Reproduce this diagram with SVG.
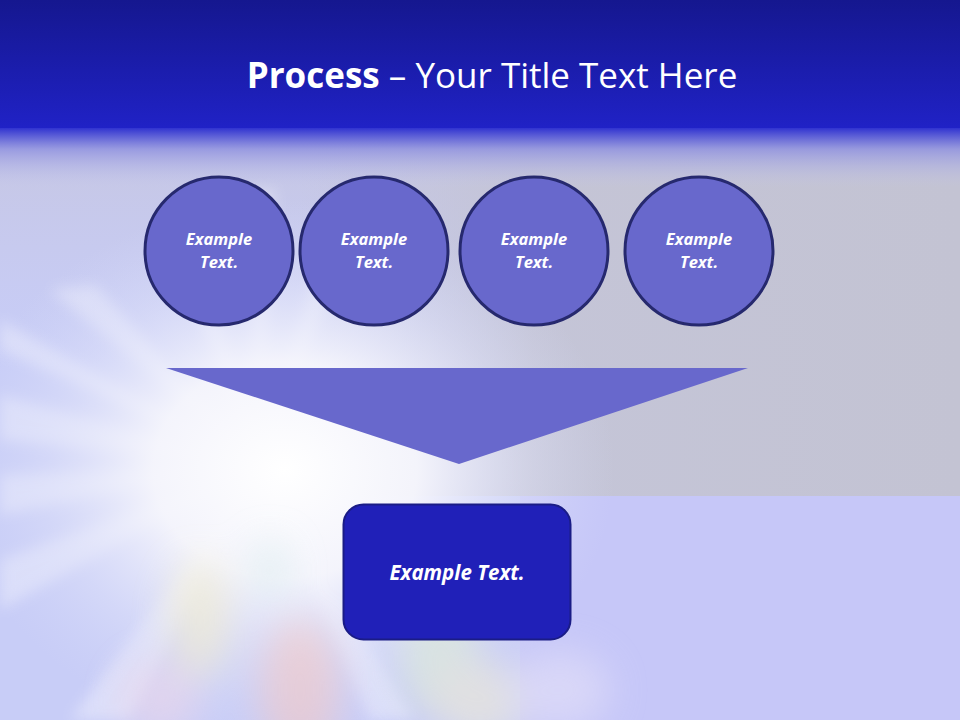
<svg xmlns="http://www.w3.org/2000/svg" width="960" height="720" viewBox="0 0 960 720">
<defs>
<linearGradient id="hdr" x1="0" y1="0" x2="0" y2="1">
<stop offset="0" stop-color="#15178f"/>
<stop offset="1" stop-color="#2022c6"/>
</linearGradient>
<linearGradient id="fade" x1="0" y1="0" x2="0" y2="1">
<stop offset="0" stop-color="#3033d0" stop-opacity="1"/>
<stop offset="0.35" stop-color="#8d8fe0" stop-opacity="0.8"/>
<stop offset="1" stop-color="#c4c6ec" stop-opacity="0"/>
</linearGradient>
<linearGradient id="upper" x1="0" y1="0" x2="0" y2="1">
<stop offset="0" stop-color="#c6c6e0" stop-opacity="1"/>
<stop offset="1" stop-color="#c6c8ee" stop-opacity="0"/>
</linearGradient>
<linearGradient id="grayband" x1="0" y1="0" x2="1" y2="0">
<stop offset="0" stop-color="#c4c4d4" stop-opacity="0"/>
<stop offset="0.35" stop-color="#c4c4d4" stop-opacity="0.9"/>
<stop offset="1" stop-color="#c3c3d3" stop-opacity="1"/>
</linearGradient>
<radialGradient id="glow" cx="0" cy="0" r="1" gradientUnits="userSpaceOnUse" gradientTransform="translate(285 470) scale(330 270)">
<stop offset="0" stop-color="#ffffff" stop-opacity="1"/>
<stop offset="0.4" stop-color="#f6f6fc" stop-opacity="0.95"/>
<stop offset="0.72" stop-color="#e6e8fa" stop-opacity="0.4"/>
<stop offset="1" stop-color="#d8dcf8" stop-opacity="0"/>
</radialGradient>
<filter id="blur" x="-50%" y="-50%" width="200%" height="200%">
<feGaussianBlur stdDeviation="18"/>
</filter>
<filter id="blur2" x="-50%" y="-50%" width="200%" height="200%">
<feGaussianBlur stdDeviation="7"/>
</filter>
<style>
.node{fill:#6868cc;stroke:#26296e;stroke-width:3}
.ct{font-family:"Open Sans","Noto Sans",sans-serif;font-weight:bold;font-style:italic;font-size:16.5px;fill:#ffffff;text-anchor:middle}
.bt{font-family:"Open Sans","Noto Sans",sans-serif;font-weight:bold;font-style:italic;font-size:20.5px;fill:#ffffff;text-anchor:middle}
.title{font-family:"Open Sans","Noto Sans",sans-serif;font-size:35px;fill:#ffffff;text-anchor:middle}
</style>
</defs>
<g id="background">
<rect x="0" y="0" width="960" height="720" fill="#c8cdf7"/>
<rect x="0" y="128" width="960" height="240" fill="url(#upper)"/>
<rect x="300" y="128" width="660" height="368" fill="url(#grayband)"/>
<rect x="520" y="496" width="440" height="224" fill="#c6c6f8" opacity="0.8"/>
<g filter="url(#blur2)" opacity="0.35" fill="#ffffff">
<polygon points="260,465 0,395 0,440"/>
<polygon points="260,465 0,475 0,515"/>
<polygon points="260,465 50,290 95,285"/>
<polygon points="260,465 165,240 200,240"/>
<polygon points="260,465 245,190 275,190"/>
<polygon points="260,465 330,215 360,222"/>
<polygon points="260,465 0,560 0,610"/>
<polygon points="260,465 70,720 130,720"/>
<polygon points="260,465 370,720 415,720"/>
<polygon points="260,465 0,320 0,350"/>
</g>
<rect x="0" y="0" width="960" height="720" fill="url(#glow)"/>
<g filter="url(#blur)" opacity="0.55">
<ellipse cx="300" cy="690" rx="40" ry="70" fill="#f8c8c0"/>
<ellipse cx="200" cy="620" rx="30" ry="60" fill="#f6f0c8"/>
<ellipse cx="160" cy="700" rx="40" ry="40" fill="#f0d8e8"/>
<ellipse cx="440" cy="660" rx="40" ry="60" fill="#e0f0d0"/>
<ellipse cx="480" cy="700" rx="50" ry="40" fill="#f4f0d0"/>
<ellipse cx="560" cy="690" rx="50" ry="40" fill="#e8e4f8"/>
<ellipse cx="270" cy="570" rx="20" ry="30" fill="#d8ecec"/>
</g>
<rect x="0" y="0" width="960" height="128" fill="url(#hdr)"/>
<rect x="0" y="128" width="960" height="60" fill="url(#fade)"/>
</g>
<g id="title">
<text class="title" x="492" y="88"><tspan font-weight="bold">Process</tspan> – Your Title Text Here</text>
</g>
<g id="node1">
<circle class="node" cx="219" cy="251" r="74"/>
<text class="ct" x="219" y="245">Example</text>
<text class="ct" x="219" y="268">Text.</text>
</g>
<g id="node2">
<circle class="node" cx="374" cy="251" r="74"/>
<text class="ct" x="374" y="245">Example</text>
<text class="ct" x="374" y="268">Text.</text>
</g>
<g id="node3">
<circle class="node" cx="534" cy="251" r="74"/>
<text class="ct" x="534" y="245">Example</text>
<text class="ct" x="534" y="268">Text.</text>
</g>
<g id="node4">
<circle class="node" cx="699" cy="251" r="74"/>
<text class="ct" x="699" y="245">Example</text>
<text class="ct" x="699" y="268">Text.</text>
</g>
<g id="funnel">
<polygon points="166,368 748,368 459,464" fill="#6868cc"/>
</g>
<g id="result">
<rect x="343.5" y="504.5" width="227" height="135" rx="20" ry="20" fill="#2020b8" stroke="#1a1c86" stroke-width="2"/>
<text class="bt" x="457" y="580">Example Text.</text>
</g>
<g id="connectors"></g>
</svg>
